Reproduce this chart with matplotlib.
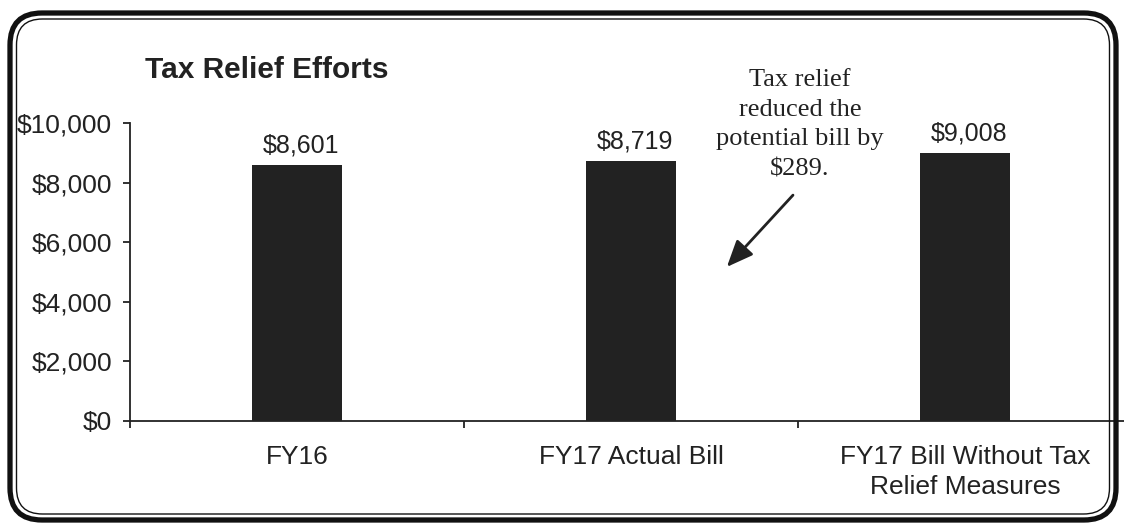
import matplotlib
matplotlib.use("Agg")
import matplotlib.pyplot as plt
from matplotlib.patches import FancyBboxPatch
from matplotlib.ticker import FuncFormatter, FixedLocator

# Bill amounts
categories = ["FY16", "FY17 Actual Bill", "FY17 Bill Without Tax\nRelief Measures"]
bills = [8601, 8719, 9008]
y_ticks = [0, 2000, 4000, 6000, 8000, 10000]
note = "Tax relief\nreduced the\npotential bill by\n$289."

ink = "#222222"
sans = "Liberation Sans"
serif = "Liberation Serif"

fig = plt.figure(figsize=(11.24, 5.25), dpi=100)
W, H = 1124, 525

ax = fig.add_axes([130 / W, 1 - 421 / H, 1002 / W, 298 / H])
x = list(range(len(categories)))
ax.bar(x, bills, width=0.27, color=ink)

ax.set_xlim(-0.5, len(categories) - 0.5)
ax.set_ylim(0, 10000)
for side in ["top", "right"]:
    ax.spines[side].set_visible(False)
for side in ["left", "bottom"]:
    ax.spines[side].set_color(ink)
    ax.spines[side].set_linewidth(1.3)

ax.yaxis.set_major_locator(FixedLocator(y_ticks))
ax.yaxis.set_major_formatter(FuncFormatter(lambda v, p: f"${v:,.0f}"))
ax.tick_params(axis="y", direction="out", length=5, width=1.3, color=ink,
               pad=8, labelsize=19, labelcolor=ink)

ax.set_xticks(x)
ax.set_xticklabels(categories, linespacing=1.32)
ax.set_xticks([-0.5, 0.5, 1.5], minor=True)
ax.tick_params(axis="x", which="major", length=0, pad=17.5, labelsize=19,
               labelcolor=ink)
ax.tick_params(axis="x", which="minor", direction="out", length=5,
               width=1.3, color=ink)
for lab in ax.get_xticklabels() + ax.get_yticklabels():
    lab.set_fontfamily(sans)

# value labels above each bar
for xi, v in zip(x, bills):
    ax.annotate(f"${v:,}", (xi, v), xytext=(3, 9), textcoords="offset points",
                ha="center", va="baseline", fontsize=18, color=ink,
                family=sans)

# callout
ax.text(1.506, 11810, note, ha="center", va="top", fontsize=19,
        family=serif, color=ink, linespacing=1.45, clip_on=False)
ax.annotate("", xy=(1.287, 5170), xytext=(1.485, 7580),
            arrowprops=dict(arrowstyle="-|>,head_length=0.9,head_width=0.38",
                            color=ink, lw=2.0, mutation_scale=18,
                            shrinkA=0, shrinkB=0))

fig.text(145 / W, 1 - 78 / H, "Tax Relief Efforts", ha="left", va="baseline",
         fontsize=21.5, fontweight="bold", family=sans, color=ink)

# double rounded border around the whole chart
frame = fig.add_axes([0, 0, 1, 1], zorder=5)
frame.set_xlim(0, W)
frame.set_ylim(H, 0)
frame.axis("off")
frame.patch.set_alpha(0)
frame.add_patch(FancyBboxPatch((10, 13), 1106, 507,
                               boxstyle="round,pad=0,rounding_size=32",
                               fill=False, ec="#111111", lw=3.8))
frame.add_patch(FancyBboxPatch((16.5, 19), 1093, 495,
                               boxstyle="round,pad=0,rounding_size=26",
                               fill=False, ec="#111111", lw=1.0))

fig.savefig("out.png", dpi=100)
